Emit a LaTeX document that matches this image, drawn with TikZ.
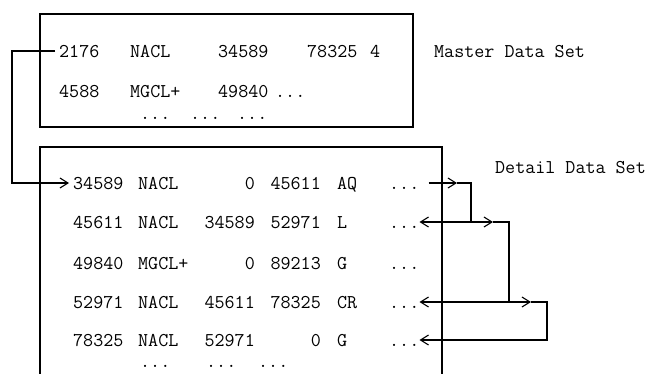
\documentclass[tikz,border=0pt]{standalone}
\usepackage{fontspec}
\usetikzlibrary{arrows.meta,positioning}
\tikzset{dbpanel/.style={
  x=1pt, y=-1pt,
  font=\fontsize{19.5}{22}\selectfont\ttfamily,
  fld/.style={inner sep=0pt, text height=12pt, text depth=0pt, anchor=west},
  num/.style={fld, anchor=east},
  frame/.style={line width=1.2pt},
  link/.style={line width=1.1pt, -{Straight Barb[length=8pt, width=10pt, line width=1.1pt]}},
}}

\begin{document}
\begin{tikzpicture}[dbpanel]
\useasboundingbox (0,0) rectangle (648,373);
% =====================================================================
%  Master data set: one record per chain
% =====================================================================
\node[frame, draw, minimum width=373pt, minimum height=113pt, inner sep=0pt] (master) at (226.5,70.5) {};
\node[fld] (mkey) at (59,51) {2176};
\node[fld] (mname) at (130,51) {NACL};
\node[fld] (mfirst) at (218,51) {34589};
\node[fld] (mlast) at (307,51) {78325};
\node[fld] (mcount) at (370,51) {4};
\node[fld] (mkeyb) at (59,91) {4588};
\node[fld] (mnameb) at (130,91) {MGCL+};
\node[fld] (mfirstb) at (218,91) {49840};
\node[fld] (mmoreb) at (275,91) {...};
\node[fld] (mdotsa) at (140,113) {...};
\node[fld] (mdotsb) at (190,113) {...};
\node[fld] (mdotsc) at (237,113) {...};
\node[fld] (mlabel) at (434,51) {Master Data Set};

% =====================================================================
%  Detail data set: records chained by previous / next pointers
% =====================================================================
\coordinate (dbl) at (40,375);
\coordinate (dtr) at (442,147);
\coordinate (dbr) at (442,375);
\draw[frame] (dbl) |- (dtr) -- (dbr);
\node[fld, anchor=east] (dlabel) at (646,167) {Detail Data Set};

\node[fld] (ida) at (73,183) {34589};
\node[fld] (nma) at (138,183) {NACL};
\node[num] (pva) at (255,183) {0};
\node[num] (nxa) at (321,183) {45611};
\node[fld] (cda) at (337,183) {AQ};
\node[fld] (dta) at (389,183) {...};

\node[fld] (idb) at (73,222) {45611};
\node[fld] (nmb) at (138,222) {NACL};
\node[num] (pvb) at (255,222) {34589};
\node[num] (nxb) at (321,222) {52971};
\node[fld] (cdb) at (337,222) {L};
\node[fld] (dtb) at (389,222) {...};

\node[fld] (idc) at (73,263) {49840};
\node[fld] (nmc) at (138,263) {MGCL+};
\node[num] (pvc) at (255,263) {0};
\node[num] (nxc) at (321,263) {89213};
\node[fld] (cdc) at (337,263) {G};
\node[fld] (dtc) at (389,263) {...};

\node[fld] (idd) at (73,302) {52971};
\node[fld] (nmd) at (138,302) {NACL};
\node[num] (pvd) at (255,302) {45611};
\node[num] (nxd) at (321,302) {78325};
\node[fld] (cdd) at (337,302) {CR};
\node[fld] (dtd) at (389,302) {...};

\node[fld] (ide) at (73,340) {78325};
\node[fld] (nme) at (138,340) {NACL};
\node[num] (pve) at (255,340) {52971};
\node[num] (nxe) at (321,340) {0};
\node[fld] (cde) at (337,340) {G};
\node[fld] (dte) at (389,340) {...};

\node[fld] (ddotsa) at (140,361) {...};
\node[fld] (ddotsb) at (206,361) {...};
\node[fld] (ddotsc) at (258,361) {...};

% master record -> first detail record
\coordinate (jog) at (12,51);
\draw[link, shorten <=4pt, shorten >=4pt] (mkey.west) -- (jog) |- (ida.west);

% next pointers along the NACL chain
\coordinate (tipa) at (457,183);
\coordinate (turna) at (471,183);
\draw[link, shorten <=9pt] (dta.east) -- (tipa);
\draw[link] (tipa) -- (turna) |- (dtb.east);

\coordinate (tipb) at (493,222);
\coordinate (turnb) at (509,222);
\draw[link, shorten <=9pt] (dtb.east) -- (tipb);
\draw[link] (tipb) -- (turnb) |- (dtd.east);

\coordinate (tipd) at (531,302);
\coordinate (turnd) at (547,302);
\draw[link, shorten <=9pt] (dtd.east) -- (tipd);
\draw[link] (tipd) -- (turnd) |- (dte.east);
\end{tikzpicture}
\end{document}
